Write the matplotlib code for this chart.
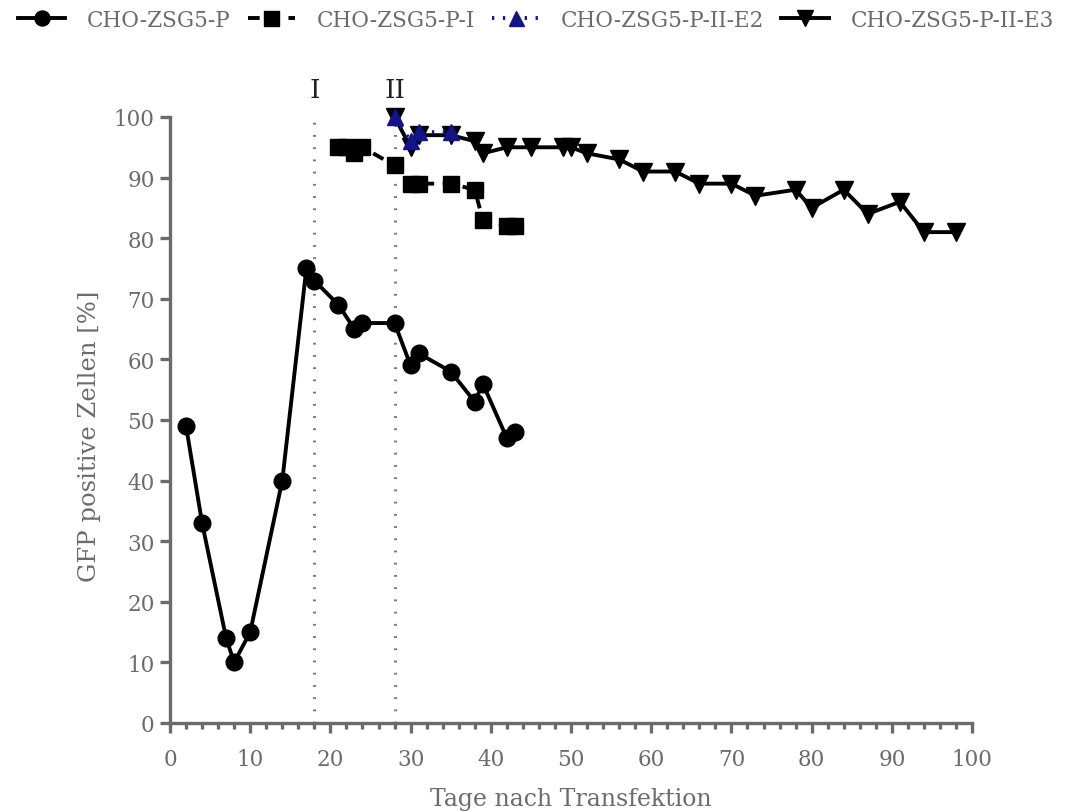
import matplotlib
matplotlib.use("Agg")
import matplotlib.pyplot as plt
from matplotlib.ticker import MultipleLocator

# GFP-positive cells over time after transfection
days_p = [2, 4, 7, 8, 10, 14, 17, 18, 21, 23, 24, 28, 30, 31, 35, 38, 39, 42, 43]
gfp_p = [49, 33, 14, 10, 15, 40, 75, 73, 69, 65, 66, 66, 59, 61, 58, 53, 56, 47, 48]

days_p_i = [21, 22, 23, 24, 28, 30, 31, 35, 38, 39, 42, 43]
gfp_p_i = [95, 95, 94, 95, 92, 89, 89, 89, 88, 83, 82, 82]

days_e2 = [28, 30, 31, 35]
gfp_e2 = [100, 96, 97.5, 97.5]

days_e3 = [28, 30, 31, 35, 38, 39, 42, 45, 49, 50, 52, 56, 59, 63, 66, 70, 73,
           78, 80, 84, 87, 91, 94, 98]
gfp_e3 = [100, 95, 97, 97, 96, 94, 95, 95, 95, 95, 94, 93, 91, 91, 89, 89, 87,
          88, 85, 88, 84, 86, 81, 81]

labels = ["CHO-ZSG5-P", "CHO-ZSG5-P-I", "CHO-ZSG5-P-II-E2", "CHO-ZSG5-P-II-E3"]
selection_days = [18, 28]
selection_names = ["I", "II"]

plt.rcParams["font.family"] = ["DejaVu Serif"]
gray = "#6b6b6b"

fig = plt.figure(figsize=(10.78, 8.12), dpi=100)
ax = fig.add_axes([0.1577, 0.1084, 0.7440, 0.7463])

lw = 2.8
h_p, = ax.plot(days_p, gfp_p, color="black", lw=lw, marker="o", ms=12,
               clip_on=False, zorder=3)
h_pi, = ax.plot(days_p_i, gfp_p_i, color="black", lw=lw, marker="s", ms=12,
                dashes=(3, 2.2), clip_on=False, zorder=3)
h_e3, = ax.plot(days_e3, gfp_e3, color="black", lw=lw, marker="v", ms=13,
                clip_on=False, zorder=4)
h_e2, = ax.plot(days_e2, gfp_e2, color="#14148a", lw=lw, marker="^", ms=12,
                linestyle=(0, (0.6, 2.2)), clip_on=False, zorder=5)

for d, name in zip(selection_days, selection_names):
    ax.plot([d, d], [0, 100], color="#7a7a7a", lw=2.2,
            linestyle=(0, (0.6, 3.4)), zorder=1)
    ax.text(d, 102.5, name, ha="center", va="bottom", fontsize=19,
            color="#222222")

ax.set_xlim(0, 100)
ax.set_ylim(0, 100)
ax.xaxis.set_major_locator(MultipleLocator(10))
ax.xaxis.set_minor_locator(MultipleLocator(2))
ax.yaxis.set_major_locator(MultipleLocator(10))

for side in ("top", "right"):
    ax.spines[side].set_visible(False)
for side in ("left", "bottom"):
    ax.spines[side].set_color(gray)
    ax.spines[side].set_linewidth(2.4)

ax.tick_params(axis="both", which="major", length=7, width=2.4, color=gray,
               labelcolor=gray, labelsize=15.5)
ax.tick_params(axis="x", which="major", pad=11)
ax.tick_params(axis="y", which="major", pad=4)
ax.tick_params(axis="x", which="minor", length=4, width=2.4, color=gray)

ax.set_xlabel("Tage nach Transfektion", fontsize=17, color=gray, labelpad=12)
ax.set_ylabel("GFP positive Zellen [%]", fontsize=17.5, color=gray)
ax.yaxis.set_label_coords(-0.086, 0.474)

fig.legend([h_p, h_pi, h_e2, h_e3], labels, loc="upper center",
           bbox_to_anchor=(0.497, 1.012), ncol=4, frameon=False, fontsize=15.5,
           labelcolor=gray, handlelength=2.2, columnspacing=0.8,
           handletextpad=1.0, markerscale=0.9)

fig.savefig("out.png", dpi=100)
